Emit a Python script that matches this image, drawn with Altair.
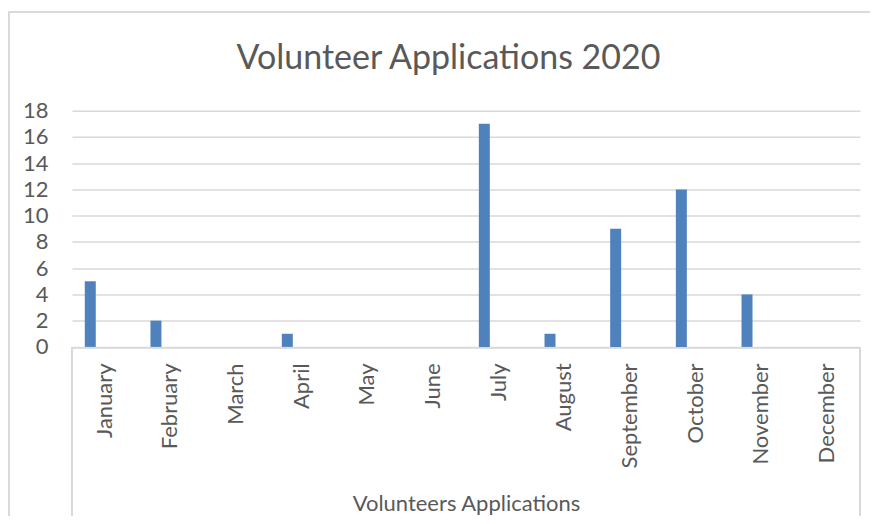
import altair as alt
import pandas as pd

months = ["January", "February", "March", "April", "May", "June",
          "July", "August", "September", "October", "November", "December"]
applications = [5, 2, 0, 1, 0, 0, 17, 1, 9, 12, 4, 0]
y_ticks = [0, 2, 4, 6, 8, 10, 12, 14, 16, 18]

df = pd.DataFrame({"month": months, "applications": applications})

FONT = "Lato"
TXT = "#595959"
GRID = "#D9D9D9"

W, H = 789, 236.5

bars = alt.Chart(df).mark_bar(width=11, xOffset=-14.5, color="#4F81BD").encode(
    x=alt.X("month:N", sort=months,
            scale=alt.Scale(paddingInner=0, paddingOuter=0),
            axis=alt.Axis(title="Volunteers Applications", labelAngle=270,
                          labelPadding=16, ticks=False,
                          domainColor=GRID, domainWidth=1.5,
                          labelFont=FONT, labelFontSize=22, labelColor=TXT,
                          titleFont=FONT, titleFontSize=22, titleColor=TXT,
                          titleFontWeight="normal", titleY=164,
                          titleBaseline="alphabetic")),
    y=alt.Y("applications:Q",
            scale=alt.Scale(domain=[0, 18], nice=False),
            axis=alt.Axis(title=None, values=y_ticks, ticks=False, domain=False,
                          labelPadding=24, gridColor=GRID, gridWidth=1.5,
                          labelFont=FONT, labelFontSize=22, labelColor=TXT)),
)

frame_left = alt.Chart(df).mark_rule(color=GRID, strokeWidth=1.5).encode(
    x=alt.value(-63.5), y=alt.value(-98.5), y2=alt.value(420))
frame_top = alt.Chart(df).mark_rule(color=GRID, strokeWidth=1.5).encode(
    x=alt.value(-64), x2=alt.value(820), y=alt.value(-98.5))
cat_left = alt.Chart(df).mark_rule(color=GRID, strokeWidth=1.5).encode(
    x=alt.value(0), y=alt.value(H), y2=alt.value(H + 171))
cat_right = alt.Chart(df).mark_rule(color=GRID, strokeWidth=1.5).encode(
    x=alt.value(W), y=alt.value(H), y2=alt.value(H + 171))

chart = alt.layer(frame_left, frame_top, cat_left, cat_right, bars).properties(
    width=W, height=H,
    autosize=alt.AutoSizeParams(type="none"),
    padding={"left": 64, "top": 102.5, "right": 10, "bottom": 169},
    title=alt.TitleParams("Volunteer Applications 2020", font=FONT, fontSize=34,
                          fontWeight="normal", color=TXT, anchor="middle",
                          dx=-17.5, baseline="alphabetic", offset=0, dy=92),
).configure_view(stroke=None)

chart.save("out.html", embed_options={"renderer": "svg", "actions": False})
